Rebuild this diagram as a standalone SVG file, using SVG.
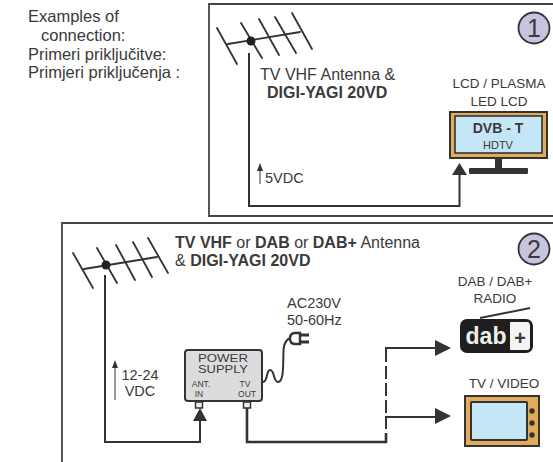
<svg xmlns="http://www.w3.org/2000/svg" width="553" height="462" viewBox="0 0 553 462">
<style>
text{font-family:"Liberation Sans",Arial,sans-serif;fill:#3a3a3a}
.c{font-size:16.5px}
.l{font-size:16px}
.s{font-size:13.5px}
.v{font-size:14.5px}
.b{font-weight:bold}
.m{text-anchor:middle}
.frame{fill:none;stroke:#444;stroke-width:1.8}
.ant{fill:none;stroke:#333;stroke-width:1.8;stroke-linecap:round}
.wire{fill:none;stroke:#333;stroke-width:2}
.num{fill:#c8c3de;stroke:#333;stroke-width:1.8}
.ah{fill:#333}
</style>
<rect width="553" height="462" fill="#fff"/>
<g id="caption">
<text class="c" x="28" y="22">Examples of</text>
<text class="c" x="41" y="41">connection:</text>
<text class="c" x="28" y="60">Primeri priključitve:</text>
<text class="c" x="28" y="78">Primjeri priključenja :</text>
</g>
<g id="panel1">
<path class="frame" d="M553 4H209V216H553"/>
<text class="l" x="260" y="80">TV VHF Antenna &amp;</text>
<text class="l b" x="267" y="98">DIGI-YAGI 20VD</text>
<text class="v" x="265" y="183">5VDC</text>
</g>
<g id="antenna1">
<path class="ant" d="M217 28L237 64M241 23L262 58M259 19L279 55M275 17L296 53M292 13L312 49M228 44L300 32"/>
<circle cx="251" cy="41" r="4.500" fill="#222"/>
</g>
<g id="badge1">
<circle class="num" cx="534" cy="28" r="15.500"/>
<text x="534" y="37" class="m" font-size="25">1</text>
</g>
<g id="tv1">
<text class="s m" x="499" y="88">LCD / PLASMA</text>
<text class="s m" x="499" y="106">LED LCD</text>
<rect x="450" y="112" width="97" height="46" fill="#e0ac5c" stroke="#333" stroke-width="2"/>
<rect x="455" y="116" width="87" height="37" fill="#c5e6f7" stroke="#333" stroke-width="1.600"/>
<text x="498" y="133" class="m b" font-size="14">DVB - T</text>
<text x="498" y="149" class="m" font-size="11">HDTV</text>
<rect x="495" y="159" width="7" height="10" fill="#333"/>
<rect x="469" y="168" width="59" height="6" rx="1" fill="#333"/>
</g>
<g id="panel2">
<path class="frame" d="M62 462V223H553"/>
<text class="l" x="175" y="248"><tspan class="b">TV VHF</tspan> or <tspan class="b">DAB</tspan> or <tspan class="b">DAB+</tspan> Antenna</text>
<text class="l" x="175" y="266">&amp; <tspan class="b">DIGI-YAGI 20VD</tspan></text>
<text class="v" x="287" y="308">AC230V</text>
<text class="v" x="287" y="325">50-60Hz</text>
<text class="v m" x="140" y="380">12-24</text>
<text class="v m" x="140" y="396">VDC</text>
</g>
<g id="antenna2">
<path class="ant" d="M73 253L93 288M97 248L117 283M116 245L135 280M133 242L152 277M148 238L168 273M84 269L157 257"/>
<circle cx="106" cy="265" r="4.500" fill="#222"/>
</g>
<g id="badge2">
<circle class="num" cx="534" cy="249" r="15.500"/>
<text x="534" y="258" class="m" font-size="25">2</text>
</g>
<g id="power-supply">
<rect x="185" y="350" width="77" height="51" rx="3" fill="#dcdcdc" stroke="#333" stroke-width="2"/>
<text x="198" y="362" font-size="10.500" textLength="50" lengthAdjust="spacingAndGlyphs">POWER</text>
<text x="198" y="373" font-size="10.500" textLength="50" lengthAdjust="spacingAndGlyphs">SUPPLY</text>
<text x="201" y="387" class="m" font-size="8.500">ANT.</text>
<text x="199" y="397" class="m" font-size="8.500">IN</text>
<text x="245" y="387" class="m" font-size="8.500">TV</text>
<text x="247" y="397" class="m" font-size="8.500">OUT</text>
<rect x="195.500" y="402" width="7" height="6" fill="#eee" stroke="#333" stroke-width="1.500"/>
<rect x="243.500" y="402" width="7" height="6" fill="#eee" stroke="#333" stroke-width="1.500"/>
</g>
<g id="plug">
<path d="M263 382C268 382 266 370 270 370C275 370 273 382 278 382C284 382 283 365 283.500 350C284 343 286 339 291 338" fill="none" stroke="#333" stroke-width="2"/>
<path d="M300 333H295C291 333 290 336 290 338.500C290 341 291 344 295 344H300Z" fill="#fff" stroke="#333" stroke-width="2.400"/>
<path d="M300 335H309M300 342H309" stroke="#333" stroke-width="2.800"/>
</g>
<g id="dab-radio">
<text class="s m" x="495" y="286">DAB / DAB+</text>
<text class="s m" x="495" y="303">RADIO</text>
<path d="M480 318L530 308" stroke="#333" stroke-width="2"/>
<rect x="460" y="319" width="73" height="34" rx="7" fill="#1f1f1f"/>
<path d="M510 322H527Q530 322 530 326V347Q530 350 527 350H510Z" fill="#f4f4f4"/>
<text x="486" y="344" class="m b" font-size="23" style="fill:#eee">dab</text>
<text x="520" y="345" class="m b" font-size="20">+</text>
</g>
<g id="tv2">
<text class="s m" x="504" y="388">TV / VIDEO</text>
<rect x="465" y="396" width="74" height="50" fill="#e0ac5c" stroke="#333" stroke-width="2"/>
<rect x="471" y="402" width="56" height="38" rx="1" fill="#c5e6f7" stroke="#333" stroke-width="2"/>
<circle cx="532" cy="411" r="2.700" fill="#333"/>
<circle cx="532" cy="423" r="2.700" fill="#333"/>
<circle cx="532" cy="435" r="2.700" fill="#333"/>
</g>
<g id="connectors">
<path class="wire" d="M249 53V206H459.500V172"/>
<path class="ah" d="M459.500 163L467 175H452Z"/>
<path d="M260 184V168" stroke="#333" stroke-width="1" fill="none"/>
<path class="ah" d="M260 163L263 171H257Z"/>
<path class="wire" d="M105 275V442H200V418"/>
<path class="ah" d="M200 408L207 421H193Z"/>
<path d="M115 400V365" stroke="#333" stroke-width="1" fill="none"/>
<path class="ah" d="M115 360L118 368H112Z"/>
<path class="wire" d="M247 408V442H386V433" style="stroke-width:2.600"/>
<path class="wire" d="M386 429V417H437"/>
<path class="ah" d="M451 416L435 408V424Z"/>
<path class="wire" d="M386 413V400M386 396V383M386 379V366M386 362V348H437"/>
<path class="ah" d="M451 348L435 340V356Z"/>
</g>
</svg>
